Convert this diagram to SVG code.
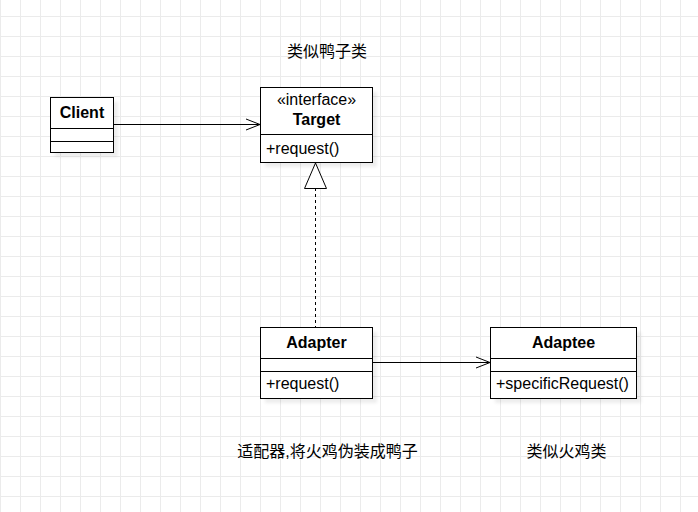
<svg xmlns="http://www.w3.org/2000/svg" width="698" height="512" viewBox="0 0 698 512">
  <defs>
    <pattern id="grid" x="0" y="16" width="20" height="20" patternUnits="userSpaceOnUse">
      <path d="M0.5 0 V20 M0 0.5 H20" fill="none" stroke="#ebebeb" stroke-width="1"/>
    </pattern>
    <filter id="blur" x="-20%" y="-20%" width="140%" height="140%">
      <feGaussianBlur stdDeviation="1.5"/>
    </filter>
    <style>
      .box { fill: #ffffff; stroke: #000000; stroke-width: 1; }
      .shadow { fill: #000000; fill-opacity: 0.07; filter: url(#blur); }
      .div { stroke: #000000; stroke-width: 1; fill: none; }
      .t { font-family: "Liberation Sans", Arial, sans-serif; font-size: 16px; fill: #000000; }
      .b { font-weight: bold; }
      .c { text-anchor: middle; }
      .cjk { font-family: "Liberation Sans", "Noto Sans CJK SC", sans-serif; font-size: 16px; fill: #000000; text-anchor: middle; }
      .edge { stroke: #000000; stroke-width: 1; fill: none; }
    </style>
  </defs>

  <rect x="0" y="0" width="698" height="512" fill="#ffffff"/>
  <rect x="0" y="0" width="698" height="512" fill="url(#grid)"/>

  <g id="client">
    <rect class="shadow" x="55" y="102" width="63" height="55"/>
    <rect class="box" x="50.5" y="97.5" width="63" height="55"/>
    <path class="div" d="M50.5 128.5 H113.5 M50.5 141.5 H113.5"/>
    <text class="t b c" x="82" y="118">Client</text>
  </g>

  <g id="target">
    <rect class="shadow" x="265" y="92" width="112" height="75"/>
    <rect class="box" x="260.5" y="87.5" width="112" height="75"/>
    <path class="div" d="M260.5 134.5 H372.5"/>
    <text class="t c" x="316.5" y="105">«interface»</text>
    <text class="t b c" x="316.5" y="125">Target</text>
    <text class="t" x="266" y="154">+request()</text>
  </g>

  <g id="adapter">
    <rect class="shadow" x="265" y="332" width="112" height="71"/>
    <rect class="box" x="260.5" y="327.5" width="112" height="71"/>
    <path class="div" d="M260.5 358.5 H372.5 M260.5 371.5 H372.5"/>
    <text class="t b c" x="316.5" y="348">Adapter</text>
    <text class="t" x="266" y="389">+request()</text>
  </g>

  <g id="adaptee">
    <rect class="shadow" x="495" y="332" width="146" height="71"/>
    <rect class="box" x="490.5" y="327.5" width="146" height="71"/>
    <path class="div" d="M490.5 358.5 H636.5 M490.5 371.5 H636.5"/>
    <text class="t b c" x="563.5" y="348">Adaptee</text>
    <text class="t" x="496" y="389">+specificRequest()</text>
  </g>

  <g id="connectors">
    <path class="edge" d="M113.5 124.5 H259.5"/>
    <path class="edge" d="M246 119 L260 124.5 L246 130"/>
    <path class="edge" d="M315.5 188 V327" stroke-dasharray="3 3"/>
    <path d="M315.5 163 L304.5 188.5 L326.5 188.5 Z" fill="#ffffff" stroke="#000000" stroke-width="1"/>
    <path class="edge" d="M372.5 362.5 H489.5"/>
    <path class="edge" d="M476 357 L490 362.5 L476 368"/>
  </g>

  <g id="labels">
    <text class="cjk" x="327" y="57">类似鸭子类</text>
    <text class="cjk" x="327.5" y="457">适配器,将火鸡伪装成鸭子</text>
    <text class="cjk" x="566.5" y="457">类似火鸡类</text>
  </g>
</svg>
